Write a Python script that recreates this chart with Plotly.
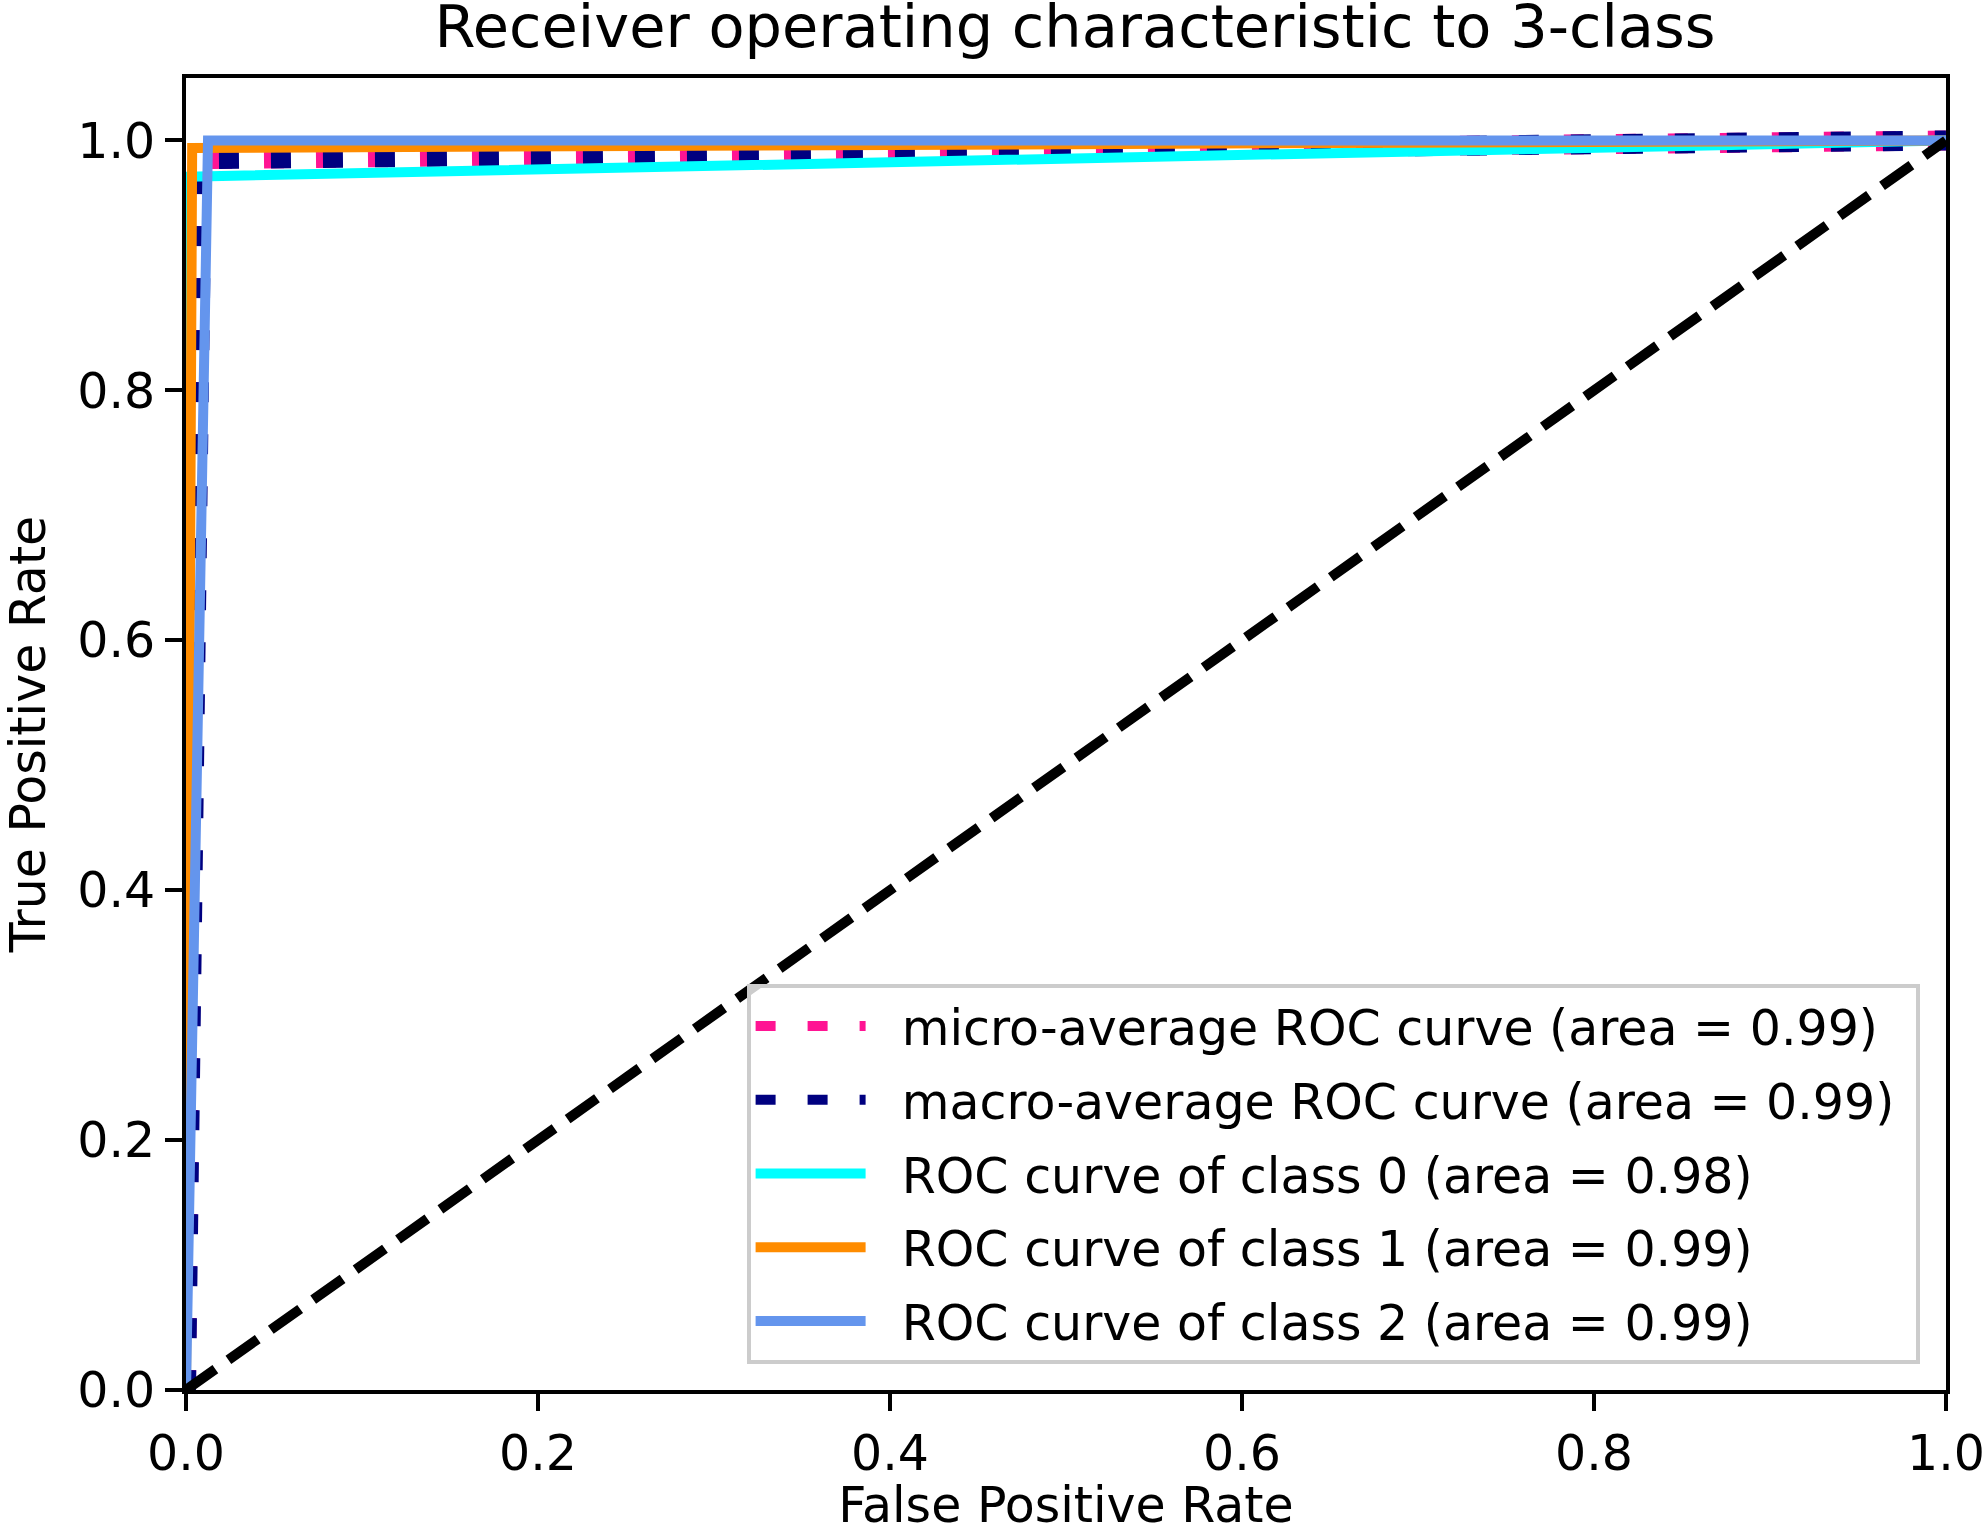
import plotly.graph_objects as go

# ROC curve points
micro_fpr = [0.0, 0.005, 1.0]
micro_tpr = [0.0, 0.985, 1.0]
macro_fpr = [0.0, 0.009, 1.0]
macro_tpr = [0.0, 0.985, 1.0]
class_fpr = [
    [0.0, 0.001, 1.0],
    [0.0, 0.0035, 1.0],
    [0.0, 0.0125, 1.0],
]
class_tpr = [
    [0.0, 0.971, 1.0],
    [0.0, 0.994, 1.0],
    [0.0, 1.0, 1.0],
]
class_auc = [0.98, 0.99, 0.99]
micro_auc = 0.99
macro_auc = 0.99
class_colors = ["aqua", "darkorange", "cornflowerblue"]
chance_x = [0.0, 1.0]
chance_y = [0.0, 1.0]

FONT = "DejaVu Sans"
PAD = "\u00a0\u00a0"  # gap between legend sample and label
TAIL = "\u00a0"

W, H = 1985, 1534

fig = go.Figure()

fig.add_trace(go.Scatter(
    x=micro_fpr, y=micro_tpr, mode="lines", legendgroup="micro",
    name=PAD + "micro-average ROC curve (area = {0:0.2f})".format(micro_auc) + TAIL,
    line=dict(color="deeppink", width=20, dash="20px,32px"),
))
fig.add_trace(go.Scatter(
    x=macro_fpr, y=macro_tpr, mode="lines", legendgroup="macro",
    name=PAD + "macro-average ROC curve (area = {0:0.2f})".format(macro_auc) + TAIL,
    line=dict(color="navy", width=20, dash="20px,32px"),
))
for i, color in enumerate(class_colors):
    fig.add_trace(go.Scatter(
        x=class_fpr[i], y=class_tpr[i], mode="lines", legendgroup="c%d" % i,
        name=PAD + "ROC curve of class {0} (area = {1:0.2f})".format(i, class_auc[i]) + TAIL,
        line=dict(color=color, width=10),
    ))
fig.add_trace(go.Scatter(
    x=chance_x, y=chance_y, mode="lines", showlegend=False,
    line=dict(color="black", width=10, dash="36px,16px"),
))

axis_style = dict(
    showline=True, mirror=True, linecolor="black", linewidth=4,
    ticks="outside", ticklen=17, tickwidth=4, tickcolor="black",
    showgrid=False, zeroline=False, automargin=False,
    tickfont=dict(family=FONT, size=49, color="black"),
    tickformat=".1f", dtick=0.2,
)

fig.update_layout(
    width=W, height=H,
    margin=dict(l=186, r=39, t=78, b=144),
    paper_bgcolor="white", plot_bgcolor="white",
    font=dict(family=FONT, size=49, color="black"),
    title=dict(
        text="Receiver operating characteristic to 3-class",
        font=dict(family=FONT, size=59, color="black"),
        x=1075 / W, xanchor="center",
        y=1 - 26 / H, yanchor="middle",
    ),
    xaxis=dict(axis_style, range=[0, 1],
               title=dict(text="False Positive Rate", standoff=31,
                          font=dict(family=FONT, size=49))),
    yaxis=dict(axis_style, range=[0, 1.05], tick0=0,
               title=dict(text="True Positive Rate", standoff=34,
                          font=dict(family=FONT, size=49))),
    legend=dict(
        x=0.985, xanchor="right", y=0.02, yanchor="bottom",
        bgcolor="rgba(255,255,255,0.8)", bordercolor="#cccccc", borderwidth=4,
        font=dict(family=FONT, size=49, color="black"),
        itemwidth=110, tracegroupgap=7, traceorder="grouped",
    ),
)

# drop the default page margin so the figure fills the window exactly
fig.write_html("out.html", config={"displayModeBar": False},
               post_script="document.body.style.margin = '0';")
